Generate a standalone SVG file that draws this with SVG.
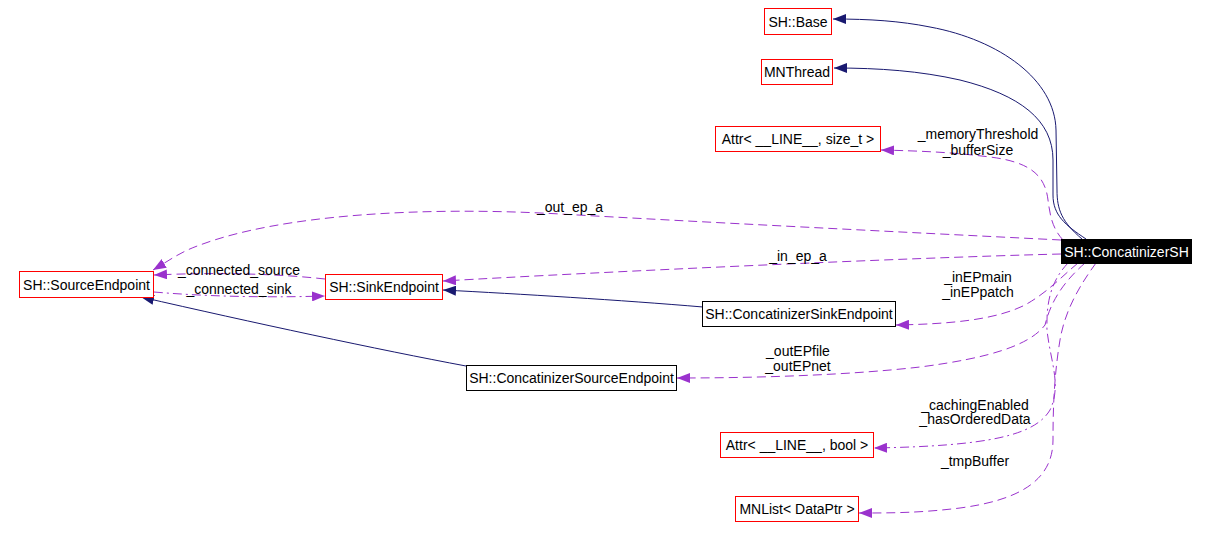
<svg xmlns="http://www.w3.org/2000/svg" width="1208" height="538" viewBox="0 0 1208 538">
<defs>
<style>
.nr{fill:#ffffff;stroke:#ff0000;stroke-width:1}
.nb{fill:#ffffff;stroke:#000000;stroke-width:1}
.nf{fill:#000000;stroke:#000000;stroke-width:1}
text{font-family:"Liberation Sans",Arial,sans-serif;font-size:14px;fill:#000000}
.c{text-anchor:middle}
.w{fill:#ffffff}
.inh{fill:none;stroke:#191970;stroke-width:1}
.use{fill:none;stroke:#9a32cd;stroke-width:1;stroke-dasharray:9,5}
.dd{fill:none;stroke:#9a32cd;stroke-width:1;stroke-dasharray:9,4,2,4}
</style>
<marker id="an" markerUnits="userSpaceOnUse" markerWidth="14" markerHeight="10" refX="13" refY="5" orient="auto">
<path d="M0,0 L13,5 L0,10 z" fill="#191970"/>
</marker>
<marker id="ap" markerUnits="userSpaceOnUse" markerWidth="14" markerHeight="10" refX="13" refY="5" orient="auto">
<path d="M0,0 L13,5 L0,10 z" fill="#9a32cd"/>
</marker>
</defs>
<g id="edges">
<path class="inh" marker-end="url(#an)" d="M1082,239 C1062,222 1057,210 1057,190 L1056,130 C1055,80 1000,40 930,27 C900,21 870,19 833,19"/>
<path class="inh" marker-end="url(#an)" d="M1086,239 C1065,225 1053,215 1053,195 L1053,160 C1053,120 1020,95 960,80 C920,71 880,68 834,68"/>
<path class="use" marker-end="url(#ap)" d="M1063,240 C1052,228 1050,215 1048,200 C1045,175 1030,162 990,157 C950,152 920,151 881,150"/>
<path class="use" marker-end="url(#ap)" d="M1061,240 C900,232 700,222 560,214 C420,206 280,215 200,245 C180,252 170,260 153,270"/>
<path class="use" marker-end="url(#ap)" d="M1061,254 C900,258 600,272 443,281"/>
<path class="inh" marker-end="url(#an)" d="M703,307 C620,300 520,294 443,290"/>
<path class="inh" marker-end="url(#an)" d="M466,366 C380,350 250,322 141,297"/>
<path class="dd" marker-end="url(#ap)" d="M154,292 C200,296 260,298 325,296"/>
<path class="use" marker-end="url(#ap)" d="M325,279 C280,274 220,272 154,275"/>
<path class="use" marker-end="url(#ap)" d="M1078,263 C1060,278 1048,292 1025,305 C995,320 950,324 896,325"/>
<path class="use" marker-end="url(#ap)" d="M1085,263 C1060,285 1050,305 1045,325 C1030,345 990,358 920,367 C850,375 760,378 677,378"/>
<path class="dd" marker-end="url(#ap)" d="M1068,263 C1052,280 1046,300 1047,330 C1050,360 1062,385 1050,410 C1035,435 990,446 874,448"/>
<path class="use" marker-end="url(#ap)" d="M1096,263 C1080,285 1065,310 1060,340 C1055,370 1053,400 1053,440 C1053,480 1020,500 960,508 C920,513 890,513 859,513"/>
<text class="c" x="978" y="139">_memoryThreshold</text>
<text class="c" x="978" y="155">_bufferSize</text>
<text class="c" x="570" y="212">_out_ep_a</text>
<text class="c" x="798" y="261">_in_ep_a</text>
<text class="c" x="239" y="275">_connected_source</text>
<text class="c" x="239" y="294">_connected_sink</text>
<text class="c" x="978" y="282">_inEPmain</text>
<text class="c" x="978" y="297">_inEPpatch</text>
<text class="c" x="798" y="356">_outEPfile</text>
<text class="c" x="798" y="371">_outEPnet</text>
<text class="c" x="975" y="410">_cachingEnabled</text>
<text class="c" x="975" y="424">_hasOrderedData</text>
<text class="c" x="975" y="466">_tmpBuffer</text>
</g>
<g id="n_base"><rect class="nr" x="764.5" y="8.5" width="67" height="26"/><text class="c" x="798" y="26.5">SH::Base</text></g>
<g id="n_mnthread"><rect class="nr" x="761.5" y="59.5" width="71" height="25"/><text class="c" x="797" y="77">MNThread</text></g>
<g id="n_attr_size"><rect class="nr" x="715.5" y="126.5" width="165" height="25"/><text class="c" x="798" y="144">Attr&lt; __LINE__, size_t &gt;</text></g>
<g id="n_source"><rect class="nr" x="19.5" y="271.5" width="134" height="26"/><text class="c" x="86.5" y="289.5">SH::SourceEndpoint</text></g>
<g id="n_sink"><rect class="nr" x="325.5" y="274.5" width="117" height="25"/><text class="c" x="384" y="292">SH::SinkEndpoint</text></g>
<g id="n_concat"><rect class="nf" x="1061.5" y="239.5" width="130" height="24"/><text class="c w" x="1126.5" y="256.5">SH::ConcatinizerSH</text></g>
<g id="n_csink"><rect class="nb" x="702.5" y="301.5" width="193" height="25"/><text class="c" x="799" y="319">SH::ConcatinizerSinkEndpoint</text></g>
<g id="n_csource"><rect class="nb" x="466.5" y="365.5" width="210" height="25"/><text class="c" x="571.5" y="383">SH::ConcatinizerSourceEndpoint</text></g>
<g id="n_attr_bool"><rect class="nr" x="720.5" y="432.5" width="153" height="25"/><text class="c" x="797" y="450">Attr&lt; __LINE__, bool &gt;</text></g>
<g id="n_mnlist"><rect class="nr" x="735.5" y="496.5" width="123" height="25"/><text class="c" x="797" y="514">MNList&lt; DataPtr &gt;</text></g>
</svg>
